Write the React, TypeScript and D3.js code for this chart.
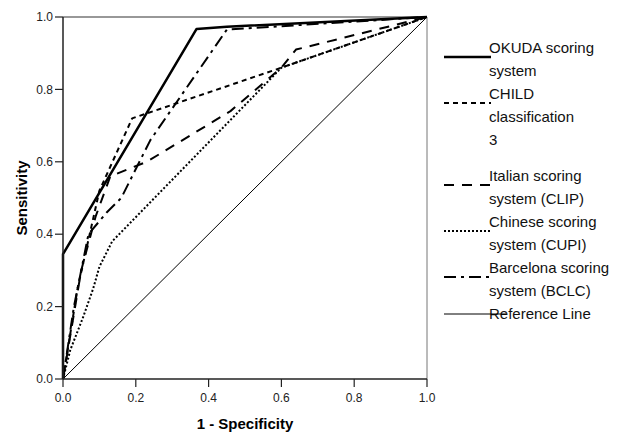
import * as d3 from "d3";

// ROC curves: [1 - specificity, sensitivity]
const okuda: [number, number][] = [[0, 0], [0, 0.345], [0.367, 0.967], [0.45, 0.973], [1, 1]];
const child: [number, number][] = [[0, 0], [0.04, 0.25], [0.1, 0.52], [0.19, 0.72], [0.6, 0.86], [1, 1]];
const clip: [number, number][] = [[0, 0], [0.02, 0.12], [0.05, 0.3], [0.09, 0.45], [0.13, 0.56], [0.23, 0.6], [0.46, 0.74], [0.6, 0.86], [0.64, 0.91], [1, 1]];
const cupi: [number, number][] = [[0, 0], [0.02, 0.08], [0.055, 0.17], [0.083, 0.25], [0.1, 0.31], [0.135, 0.38], [0.6, 0.86], [1, 1]];
const bclc: [number, number][] = [[0, 0], [0.03, 0.2], [0.07, 0.4], [0.12, 0.46], [0.16, 0.5], [0.24, 0.66], [0.45, 0.965], [1, 1]];
const refLine: [number, number][] = [[0, 0], [1, 1]];

const ticks = [0, 0.2, 0.4, 0.6, 0.8, 1.0];

const legendLabels = [
  ["OKUDA scoring", "system"],
  ["CHILD", "classification", "3"],
  ["Italian scoring", "system (CLIP)"],
  ["Chinese scoring", "system (CUPI)"],
  ["Barcelona scoring", "system (BCLC)"],
  ["Reference Line"],
];

const series = [
  { data: okuda, dash: "", width: 2.5 },
  { data: child, dash: "5,4", width: 2 },
  { data: clip, dash: "10,8", width: 2 },
  { data: cupi, dash: "2,2", width: 2 },
  { data: bclc, dash: "12,5,3,5", width: 2 },
  { data: refLine, dash: "", width: 1 },
];

export default function App() {
  const W = 640, H = 434;
  const x = d3.scaleLinear().domain([0, 1]).range([63, 427]);
  const y = d3.scaleLinear().domain([0, 1]).range([379, 17]);
  const line = d3.line<[number, number]>().x(d => x(d[0])).y(d => y(d[1]));
  const font = "Liberation Sans, Arial, sans-serif";
  const lh = 23;

  let cy = 48;
  const legendRows = legendLabels.map((lines, i) => {
    const row = { lines, s: series[i], y: cy };
    cy += lines.length * lh + (i === 1 ? 13 : 0);
    return row;
  });

  return (
    <svg width={W} height={H} style={{ position: "absolute", left: 0, top: 0 }} fontFamily={font}>
      <rect width={W} height={H} fill="white" />
      {/* frame */}
      <line x1={x(0)} x2={x(1)} y1={y(1)} y2={y(1)} stroke="#333" strokeWidth={1.2} />
      <line x1={x(1)} x2={x(1)} y1={y(1)} y2={y(0)} stroke="#777" strokeWidth={1} />
      {series.map((s, i) => (
        <path key={i} d={line(s.data) || ""} fill="none" stroke="#000"
          strokeWidth={s.width} strokeDasharray={s.dash || undefined} strokeLinejoin="round" />
      ))}
      {/* axes */}
      <line x1={x(0)} x2={x(0)} y1={y(1)} y2={y(0)} stroke="#222" strokeWidth={1.5} />
      <line x1={x(0)} x2={x(1)} y1={y(0)} y2={y(0)} stroke="#222" strokeWidth={1.5} />
      {ticks.map(t => (
        <g key={"y" + t}>
          <line x1={x(0) - 8} x2={x(0)} y1={y(t)} y2={y(t)} stroke="#222" strokeWidth={1.2} />
          <text x={x(0) - 10} y={y(t)} dy="0.35em" textAnchor="end" fontSize={12} fill="#222">{d3.format(".1f")(t)}</text>
        </g>
      ))}
      {ticks.map(t => (
        <g key={"x" + t}>
          <line x1={x(t)} x2={x(t)} y1={y(0)} y2={y(0) + 8} stroke="#222" strokeWidth={1.2} />
          <text x={x(t)} y={y(0) + 23} textAnchor="middle" fontSize={12} fill="#222">{d3.format(".1f")(t)}</text>
        </g>
      ))}
      <text x={245} y={429} textAnchor="middle" fontSize={15} fontWeight="bold">1 - Specificity</text>
      <text transform={`translate(27,${y(0.5)}) rotate(-90)`} textAnchor="middle" fontSize={15} fontWeight="bold">Sensitivity</text>
      {/* legend */}
      {legendRows.map((r, i) => {
        const single = r.lines.length === 1;
        const ly = single ? r.y : r.y + 9;
        return (
          <g key={i}>
            {r.lines.map((t, j) => (
              <text key={j} x={489} y={r.y + j * lh} dy="0.35em" fontSize={15} fill="#111">{t}</text>
            ))}
            <line x1={444} x2={single ? 506 : 491} y1={ly} y2={ly} stroke="#000"
              strokeWidth={r.s.width} strokeDasharray={r.s.dash || undefined} />
          </g>
        );
      })}
    </svg>
  );
}
